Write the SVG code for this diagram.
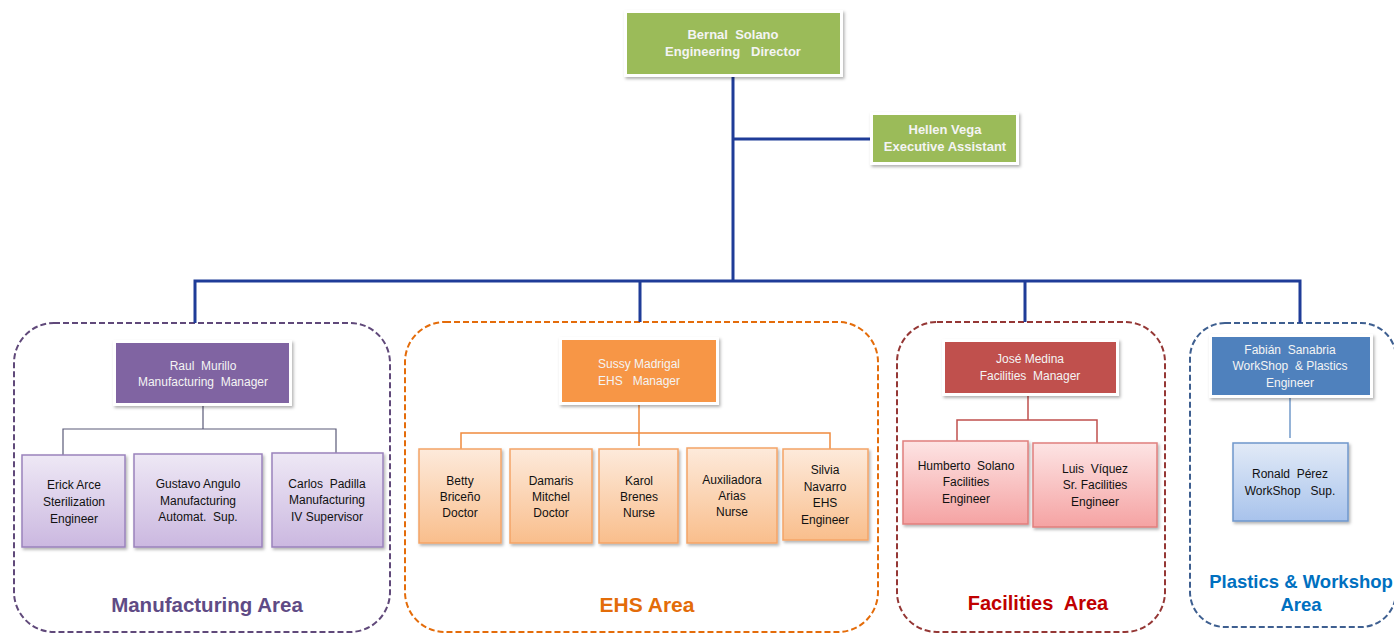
<svg xmlns="http://www.w3.org/2000/svg" width="1394" height="634" viewBox="0 0 1394 634">
  <defs>
    <filter id="shadow" x="-10%" y="-10%" width="125%" height="130%">
      <feDropShadow dx="1.5" dy="2" stdDeviation="1.5" flood-color="#000" flood-opacity="0.3"/>
    </filter>
    <linearGradient id="gPurple" x1="0" y1="0" x2="0" y2="1">
      <stop offset="0" stop-color="#EEE8F5"/>
      <stop offset="1" stop-color="#CBB8E0"/>
    </linearGradient>
    <linearGradient id="gOrange" x1="0" y1="0" x2="0" y2="1">
      <stop offset="0" stop-color="#FDEADB"/>
      <stop offset="1" stop-color="#F9BE8C"/>
    </linearGradient>
    <linearGradient id="gRed" x1="0" y1="0" x2="0" y2="1">
      <stop offset="0" stop-color="#FDE4E4"/>
      <stop offset="1" stop-color="#F5A3A3"/>
    </linearGradient>
    <linearGradient id="gBlue" x1="0" y1="0" x2="0" y2="1">
      <stop offset="0" stop-color="#E2EAF7"/>
      <stop offset="1" stop-color="#A8C3EC"/>
    </linearGradient>
  </defs>
  <style>
    text { font-family: "Liberation Sans", Arial, sans-serif; text-anchor: middle; white-space: pre; }
    .head { font-size: 13px; font-weight: bold; fill: #F4F4F4; }
    .mgr { font-size: 12px; fill: #F4F4F4; }
    .sub { font-size: 12px; fill: #111; }
    .area { font-weight: bold; }
    .frame { fill: #FFFFFF; filter: url(#shadow); }
    .zone { fill: none; stroke-width: 2; stroke-dasharray: 6 3; }
    .bus { fill: none; stroke: #1F3C98; stroke-width: 3; }
  </style>

  <rect width="1394" height="634" fill="#FFFFFF"/>

  <!-- area frames -->
  <g id="zones">
    <rect class="zone" x="14" y="323" width="376" height="309" rx="40" stroke="#60497A"/>
    <rect class="zone" x="405" y="322" width="473" height="310" rx="40" stroke="#E46C0A"/>
    <rect class="zone" x="897" y="322" width="268" height="310" rx="40" stroke="#953735"/>
    <rect class="zone" x="1190" y="323" width="206" height="304" rx="35" stroke="#3E5F90"/>
  </g>

  <!-- connectors -->
  <g id="connectors">
    <path class="bus" d="M733 77 V281 M733 139 H872 M195 323 V281 H1300 V323 M640 281 V322 M1025 281 V322"/>
    <path d="M203 403 V429 M63 455 V429 H336 V453" fill="none" stroke="#5A5A78" stroke-width="1.2"/>
    <path d="M639 402 V446 M461 449 V433 H830 V449" fill="none" stroke="#F08B3E" stroke-width="1.5"/>
    <path d="M1028 393 V420 M957 441 V420 H1097 V443" fill="none" stroke="#C0504D" stroke-width="1.5"/>
    <path d="M1290 395 V438" fill="none" stroke="#95B3D7" stroke-width="2"/>
  </g>

  <!-- director -->
  <g id="node-bernal">
    <rect class="frame" x="624" y="10" width="219" height="67"/>
    <rect x="627" y="13" width="213" height="61" fill="#9BBB59"/>
    <text class="head" x="733" y="39">Bernal  Solano</text>
    <text class="head" x="733" y="56">Engineering   Director</text>
  </g>
  <g id="node-hellen">
    <rect class="frame" x="870" y="112" width="149" height="53"/>
    <rect x="873" y="115" width="143" height="47" fill="#9BBB59"/>
    <text class="head" x="945" y="134">Hellen Vega</text>
    <text class="head" x="945" y="151">Executive Assistant</text>
  </g>

  <!-- manufacturing -->
  <g id="node-raul">
    <rect class="frame" x="113" y="340" width="179" height="66"/>
    <rect x="116" y="343" width="173" height="60" fill="#8064A2"/>
    <text class="mgr" x="203" y="370">Raul  Murillo</text>
    <text class="mgr" x="203" y="386">Manufacturing  Manager</text>
  </g>
  <g id="node-erick">
    <rect x="22" y="455" width="103" height="92" fill="url(#gPurple)" stroke="#9A82BC" stroke-width="1.5" filter="url(#shadow)"/>
    <text class="sub" x="74" y="489">Erick Arce</text>
    <text class="sub" x="74" y="506">Sterilization</text>
    <text class="sub" x="74" y="523">Engineer</text>
  </g>
  <g id="node-gustavo">
    <rect x="134" y="454" width="128" height="93" fill="url(#gPurple)" stroke="#9A82BC" stroke-width="1.5" filter="url(#shadow)"/>
    <text class="sub" x="198" y="488">Gustavo Angulo</text>
    <text class="sub" x="198" y="505">Manufacturing</text>
    <text class="sub" x="198" y="521">Automat.  Sup.</text>
  </g>
  <g id="node-carlos">
    <rect x="272" y="453" width="111" height="94" fill="url(#gPurple)" stroke="#9A82BC" stroke-width="1.5" filter="url(#shadow)"/>
    <text class="sub" x="327" y="488">Carlos  Padilla</text>
    <text class="sub" x="327" y="504">Manufacturing</text>
    <text class="sub" x="327" y="521">IV Supervisor</text>
  </g>
  <text class="area" x="207" y="612" font-size="20.5" fill="#5F4B85">Manufacturing Area</text>

  <!-- EHS -->
  <g id="node-sussy">
    <rect class="frame" x="559" y="337" width="160" height="68"/>
    <rect x="562" y="340" width="154" height="62" fill="#F79646"/>
    <text class="mgr" x="639" y="368">Sussy Madrigal</text>
    <text class="mgr" x="639" y="385">EHS   Manager</text>
  </g>
  <g id="node-betty">
    <rect x="419" y="449" width="82" height="94" fill="url(#gOrange)" stroke="#F4A467" stroke-width="1.5" filter="url(#shadow)"/>
    <text class="sub" x="460" y="485">Betty</text>
    <text class="sub" x="460" y="501">Briceño</text>
    <text class="sub" x="460" y="517">Doctor</text>
  </g>
  <g id="node-damaris">
    <rect x="510" y="449" width="82" height="94" fill="url(#gOrange)" stroke="#F4A467" stroke-width="1.5" filter="url(#shadow)"/>
    <text class="sub" x="551" y="485">Damaris</text>
    <text class="sub" x="551" y="501">Mitchel</text>
    <text class="sub" x="551" y="517">Doctor</text>
  </g>
  <g id="node-karol">
    <rect x="599" y="449" width="79" height="94" fill="url(#gOrange)" stroke="#F4A467" stroke-width="1.5" filter="url(#shadow)"/>
    <text class="sub" x="639" y="485">Karol</text>
    <text class="sub" x="639" y="501">Brenes</text>
    <text class="sub" x="639" y="517">Nurse</text>
  </g>
  <g id="node-auxiliadora">
    <rect x="687" y="448" width="90" height="95" fill="url(#gOrange)" stroke="#F4A467" stroke-width="1.5" filter="url(#shadow)"/>
    <text class="sub" x="732" y="484">Auxiliadora</text>
    <text class="sub" x="732" y="500">Arias</text>
    <text class="sub" x="732" y="516">Nurse</text>
  </g>
  <g id="node-silvia">
    <rect x="783" y="449" width="85" height="91" fill="url(#gOrange)" stroke="#F4A467" stroke-width="1.5" filter="url(#shadow)"/>
    <text class="sub" x="825" y="474">Silvia</text>
    <text class="sub" x="825" y="491">Navarro</text>
    <text class="sub" x="825" y="507">EHS</text>
    <text class="sub" x="825" y="524">Engineer</text>
  </g>
  <text class="area" x="647" y="612" font-size="21" fill="#E36C09">EHS Area</text>

  <!-- facilities -->
  <g id="node-jose">
    <rect class="frame" x="942" y="339" width="177" height="57"/>
    <rect x="945" y="342" width="171" height="51" fill="#C0504D"/>
    <text class="mgr" x="1030" y="363">José Medina</text>
    <text class="mgr" x="1030" y="380">Facilities  Manager</text>
  </g>
  <g id="node-humberto">
    <rect x="903" y="441" width="125" height="83" fill="url(#gRed)" stroke="#E07F7D" stroke-width="1.5" filter="url(#shadow)"/>
    <text class="sub" x="966" y="470">Humberto  Solano</text>
    <text class="sub" x="966" y="486">Facilities</text>
    <text class="sub" x="966" y="503">Engineer</text>
  </g>
  <g id="node-luis">
    <rect x="1033" y="443" width="124" height="84" fill="url(#gRed)" stroke="#E07F7D" stroke-width="1.5" filter="url(#shadow)"/>
    <text class="sub" x="1095" y="473">Luis  Víquez</text>
    <text class="sub" x="1095" y="489">Sr. Facilities</text>
    <text class="sub" x="1095" y="506">Engineer</text>
  </g>
  <text class="area" x="1038" y="610" font-size="20" fill="#C00000">Facilities  Area</text>

  <!-- plastics & workshop -->
  <g id="node-fabian">
    <rect class="frame" x="1209" y="334" width="164" height="64"/>
    <rect x="1212" y="337" width="158" height="58" fill="#4F81BD"/>
    <text class="mgr" x="1290" y="354">Fabián  Sanabria</text>
    <text class="mgr" x="1290" y="370">WorkShop  &amp; Plastics</text>
    <text class="mgr" x="1290" y="387">Engineer</text>
  </g>
  <g id="node-ronald">
    <rect x="1233" y="443" width="115" height="78" fill="url(#gBlue)" stroke="#6F97CC" stroke-width="1.5" filter="url(#shadow)"/>
    <text class="sub" x="1290" y="478">Ronald  Pérez</text>
    <text class="sub" x="1290" y="495">WorkShop   Sup.</text>
  </g>
  <text class="area" x="1301" y="588" font-size="18.5" fill="#0070C0">Plastics &amp; Workshop</text>
  <text class="area" x="1301" y="611" font-size="18.5" fill="#0070C0">Area</text>
</svg>
